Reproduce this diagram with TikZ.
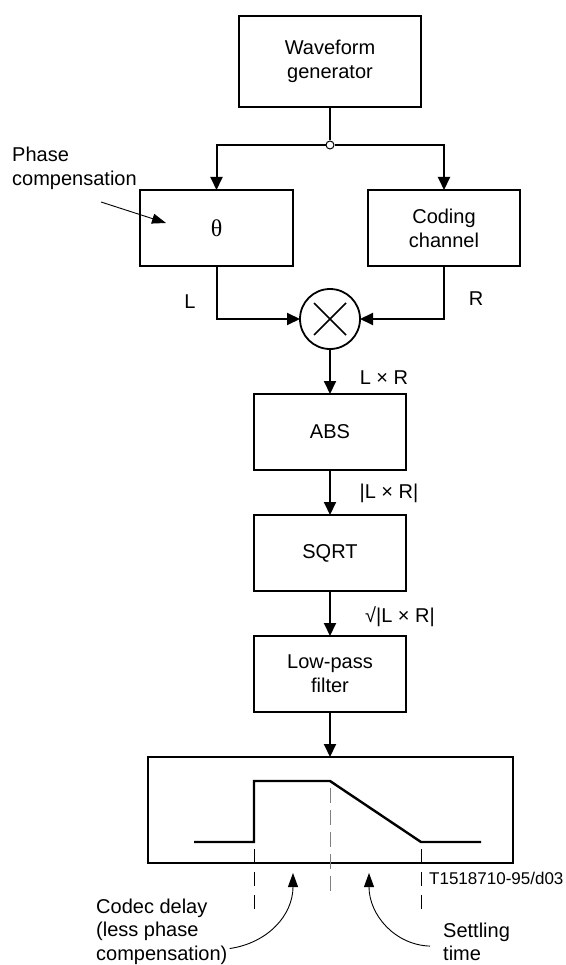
\documentclass[tikz,border=0pt]{standalone}
\usepackage{fontspec}
\setmainfont{Liberation Sans}
\newfontfamily\thetafont{Liberation Serif}
\usetikzlibrary{positioning,arrows.meta,calc}
\tikzset{
  blk/.style={draw,line width=2pt,minimum width=152pt,minimum height=76pt,
              inner sep=0pt,outer sep=0pt,align=center,
              font=\fontsize{20}{24}\selectfont},
  mixer/.style={draw,circle,line width=1.8pt,minimum size=60pt,inner sep=0pt,outer sep=0pt},
  junc/.style={draw,circle,fill=white,line width=1pt,minimum size=8pt,inner sep=0pt},
  lbl/.style={inner sep=0pt,font=\fontsize{20}{24}\selectfont},
  txt/.style={inner sep=0pt,align=left,anchor=north west,font=\fontsize{20}{23.5}\selectfont},
  arr/.style={-{Triangle[length=13pt,width=12pt]},line width=2pt},
  thinarr/.style={-{Triangle[length=14pt,width=10pt]},line width=0.9pt},
  trace/.style={line width=2.4pt},
  guide/.style={line width=0.9pt,dash pattern=on 14pt off 9pt},
}
\begin{document}
\begin{tikzpicture}[x=1pt,y=-1pt,node distance=45pt]
  \useasboundingbox (0,0) rectangle (565,965);
  \node[blk,minimum width=182pt,minimum height=91pt] (wave) at (330,61.5) {Waveform\\generator};
  \node[junc] (dot) at (330,145) {};
  \node[blk,minimum width=153pt] (theta) at (216.5,228) {\thetafont\fontsize{24}{24}\selectfont θ};
  \node[blk] (coding) at (444,228) {Coding\\channel};
  \node[mixer] (mult) at (330,319) {};
  \node[blk,below=of mult] (abs) {ABS};
  \node[blk,below=of abs] (sqrt) {SQRT};
  \node[blk,below=of sqrt] (lpf) {Low-pass\\filter};
  \node[blk,minimum width=365pt,minimum height=106pt,below=of lpf] (scope) {};

  \draw[line width=1.5pt] ($(mult)+(-16,-16)$) -- ($(mult)+(16,16)$)
                          ($(mult)+(-16,16)$) -- ($(mult)+(16,-16)$);

  \draw[line width=2.8pt] (wave) -- (dot);
  \draw[arr] (dot) -| (theta);
  \draw[arr] (dot) -| (coding);
  \draw[arr] (theta) |- (mult);
  \draw[arr] (coding) |- (mult);
  \draw[arr] (mult) -- (abs);
  \draw[arr] (abs) -- (sqrt);
  \draw[arr] (sqrt) -- (lpf);
  \draw[arr] (lpf) -- (scope);

  \node[lbl] (lblL) at (190,302) {L};
  \node[lbl] (lblR) at (476,299) {R};
  \node[lbl] (lblLR) at (384,378) {L × R};
  \node[lbl] (lblabs) at (389,493) {|L × R|};
  \node[lbl] (lblsqrt) at (400,617) {√|L × R|};

  \node[txt,font=\fontsize{20}{24.5}\selectfont] (phase) at (12,146.5) {Phase\\compensation};
  \coordinate (phstart) at (101,202);
  \draw[thinarr] (phstart) -- (166,223);

  \draw[trace] (194,842) -- (254,842) -- (254,781) -- (330,781) -- (421,842) -- (481,842);
  \draw[guide] (254,849) -- (254,909);
  \draw[guide,gray,dash pattern=on 15pt off 7pt] (330,788) -- (330,894);
  \draw[guide] (421,849) -- (421,909);

  \node[inner sep=0pt,anchor=west,font=\fontsize{17}{20}\selectfont] (tag) at (429,878) {T1518710-95/d03};

  \node[txt] (codec) at (96,898.5) {Codec delay\\(less phase\\compensation)};
  \node[txt] (settle) at (443,922.5) {Settling\\time};
  \coordinate (cdtip) at (293,873);
  \coordinate (sttip) at (369,873);
  \draw[thinarr] ($(codec.south east)+(2,-16)$) .. controls (268,943) and (293,915) .. (cdtip);
  \draw[thinarr] ($(settle.south west)+(-13,-15)$) .. controls (395,945) and (369,915) .. (sttip);
\end{tikzpicture}
\end{document}
